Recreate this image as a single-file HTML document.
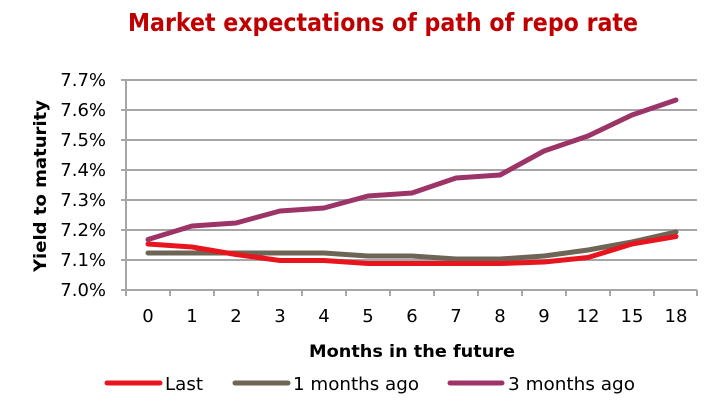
<!DOCTYPE html>
<html><head><meta charset="utf-8"><style>
html,body{margin:0;padding:0;background:#fff;width:717px;height:412px;overflow:hidden}
text{font-family:"DejaVu Sans","Liberation Sans",sans-serif}
</style></head><body>
<svg width="717" height="412" viewBox="0 0 717 412" xmlns="http://www.w3.org/2000/svg">
<text x="383" y="31" text-anchor="middle" font-size="25" font-weight="bold" fill="#c00000" textLength="510" lengthAdjust="spacingAndGlyphs">Market expectations of path of repo rate</text>
<g stroke="#a6a6a6" stroke-width="2">
<line x1="121" y1="80" x2="697" y2="80"/>
<line x1="121" y1="110" x2="697" y2="110"/>
<line x1="121" y1="140" x2="697" y2="140"/>
<line x1="121" y1="170" x2="697" y2="170"/>
<line x1="121" y1="200" x2="697" y2="200"/>
<line x1="121" y1="230" x2="697" y2="230"/>
<line x1="121" y1="260" x2="697" y2="260"/>
<line x1="121" y1="290" x2="697" y2="290"/>
<line x1="126" y1="80" x2="126" y2="296"/>
<line x1="170" y1="290" x2="170" y2="296"/>
<line x1="214" y1="290" x2="214" y2="296"/>
<line x1="258" y1="290" x2="258" y2="296"/>
<line x1="302" y1="290" x2="302" y2="296"/>
<line x1="346" y1="290" x2="346" y2="296"/>
<line x1="390" y1="290" x2="390" y2="296"/>
<line x1="434" y1="290" x2="434" y2="296"/>
<line x1="478" y1="290" x2="478" y2="296"/>
<line x1="522" y1="290" x2="522" y2="296"/>
<line x1="566" y1="290" x2="566" y2="296"/>
<line x1="610" y1="290" x2="610" y2="296"/>
<line x1="654" y1="290" x2="654" y2="296"/>
<line x1="697" y1="290" x2="697" y2="296"/>
</g>
<g font-size="18" fill="#000" text-anchor="end">
<text x="106" y="86">7.7%</text><text x="106" y="116">7.6%</text><text x="106" y="146">7.5%</text>
<text x="106" y="176">7.4%</text><text x="106" y="206">7.3%</text><text x="106" y="236">7.2%</text>
<text x="106" y="266">7.1%</text><text x="106" y="296">7.0%</text>
</g>
<g font-size="18" fill="#000" text-anchor="middle">
<text x="148" y="322">0</text><text x="192" y="322">1</text><text x="236" y="322">2</text><text x="280" y="322">3</text>
<text x="324" y="322">4</text><text x="368" y="322">5</text><text x="412" y="322">6</text><text x="456" y="322">7</text>
<text x="500" y="322">8</text><text x="544" y="322">9</text><text x="588" y="322">12</text><text x="632" y="322">15</text>
<text x="676" y="322">18</text>
</g>
<text x="412" y="357" text-anchor="middle" font-size="17" font-weight="bold" fill="#000" textLength="206" lengthAdjust="spacingAndGlyphs">Months in the future</text>
<text transform="translate(46,186) rotate(-90)" text-anchor="middle" font-size="17" font-weight="bold" fill="#000" textLength="172" lengthAdjust="spacingAndGlyphs">Yield to maturity</text>
<g fill="none" stroke-width="5" stroke-linejoin="round" stroke-linecap="round">
<polyline stroke="#6e6556" points="148,253 192,253 236,253 280,253 324,253 368,256 412,256 456,259 500,259 544,256 588,250 632,242 676,232"/>
<polyline stroke="#e8141e" points="148,244 192,247 236,254.5 280,260.5 324,260.5 368,263.5 412,263.5 456,263.5 500,263.5 544,262 588,257.5 632,244 676,236.5"/>
<polyline stroke="#9c3468" points="148,239.5 192,226 236,223 280,211 324,208 368,196 412,193 456,178 500,175 544,151 588,136 632,115 676,100"/>
</g>
<g stroke-width="5" stroke-linecap="round">
<line x1="107" y1="383" x2="160" y2="383" stroke="#e8141e"/>
<line x1="235" y1="383" x2="288" y2="383" stroke="#6e6556"/>
<line x1="450" y1="383" x2="502" y2="383" stroke="#9c3468"/>
</g>
<g font-size="18" fill="#000">
<text x="165" y="390" textLength="38" lengthAdjust="spacingAndGlyphs">Last</text>
<text x="293" y="390" textLength="126" lengthAdjust="spacingAndGlyphs">1 months ago</text>
<text x="508" y="390" textLength="127" lengthAdjust="spacingAndGlyphs">3 months ago</text>
</g>
</svg>
</body></html>
